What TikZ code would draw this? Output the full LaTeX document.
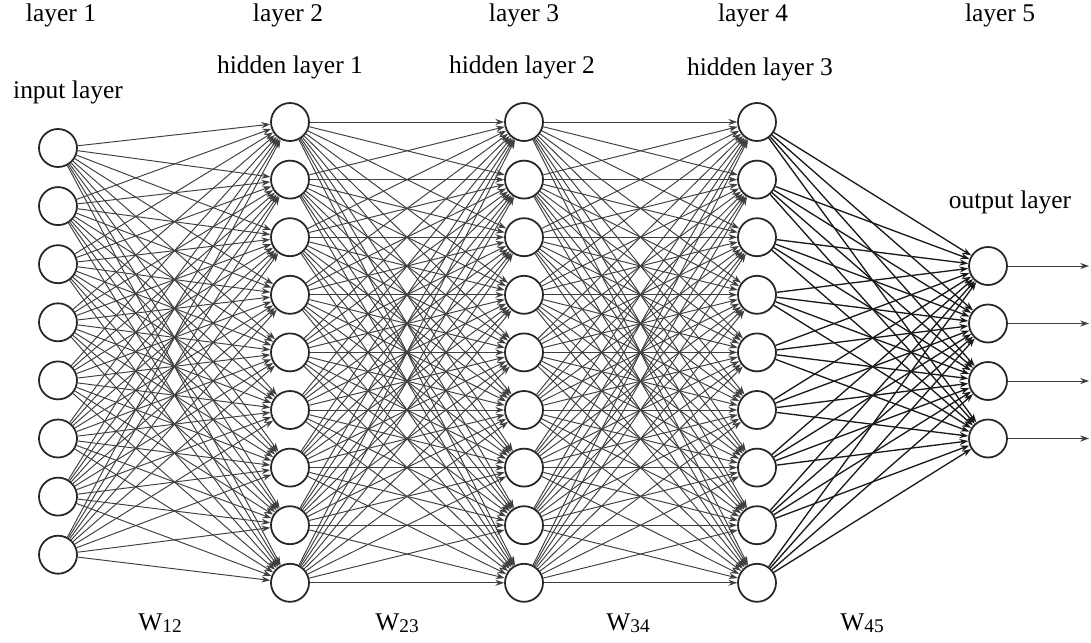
\documentclass[tikz,border=0pt]{standalone}
\usepackage{fontspec}
\setmainfont{Liberation Serif}
\usetikzlibrary{arrows.meta}
\tikzstyle{neuron} = [circle, draw, black!85, line width=1pt, fill=white,
                minimum size=0.76cm, inner sep=0pt]
\tikzstyle{line} = [draw, black!75, line width=0.55pt, -{Stealth[length=5pt,width=3.5pt]}]
\tikzstyle{darkline} = [line, black!90, line width=0.75pt]
\tikzstyle{lbl} = [font=\fontsize{14.5}{17}\selectfont, inner sep=0pt]
\newcommand{\wsub}[1]{W\raisebox{-1.2pt}{\fontsize{11}{12}\selectfont #1}}
\begin{document}
\begin{tikzpicture}[x=0.02cm,y=-0.02cm]
            \useasboundingbox (0,0) rectangle (1091,642);
            % neurons
            \foreach \i in {1,...,8}
                \node[neuron] (in\i) at (58,{148+58.1*(\i-1)}) {};
            \foreach \j in {1,...,9} {
                \node[neuron] (ha\j) at (290,{122+57.6*(\j-1)}) {};
                \node[neuron] (hb\j) at (524,{122+57.6*(\j-1)}) {};
                \node[neuron] (hc\j) at (757,{122+57.6*(\j-1)}) {};
            }
            \foreach \k in {1,...,4} {
                \node[neuron] (out\k) at (988,{266+57.5*(\k-1)}) {};
                \coordinate (end\k) at (1089,{266+57.5*(\k-1)});
            }
            % weights
            \foreach \i in {1,...,8}
                \foreach \j in {1,...,9}
                    \path[line] (in\i) -- (ha\j);
            \foreach \i in {1,...,9}
                \foreach \j in {1,...,9} {
                    \path[line] (ha\i) -- (hb\j);
                    \path[line] (hb\i) -- (hc\j);
                }
            \foreach \i in {1,...,9}
                \foreach \k in {1,...,4}
                    \path[darkline] (hc\i) -- (out\k);
            \foreach \k in {1,...,4}
                \path[line] (out\k) -- (end\k);
            % labels
            \node[lbl] (l1) at (61,15) {layer 1};
            \node[lbl] (l2) at (288,15) {layer 2};
            \node[lbl] (l3) at (524,15) {layer 3};
            \node[lbl] (l4) at (753,15) {layer 4};
            \node[lbl] (l5) at (1000,15) {layer 5};
            \node[lbl] (inlbl) at (68,92) {input layer};
            \node[lbl] (halbl) at (290,67) {hidden layer 1};
            \node[lbl] (hblbl) at (522,67) {hidden layer 2};
            \node[lbl] (hclbl) at (760,69) {hidden layer 3};
            \node[lbl] (outlbl) at (1010,202) {output layer};
            \node[lbl] (w12) at (160,623) {\wsub{12}};
            \node[lbl] (w23) at (397,623) {\wsub{23}};
            \node[lbl] (w34) at (628,623) {\wsub{34}};
            \node[lbl] (w45) at (862,623) {\wsub{45}};
        \end{tikzpicture}
\end{document}
